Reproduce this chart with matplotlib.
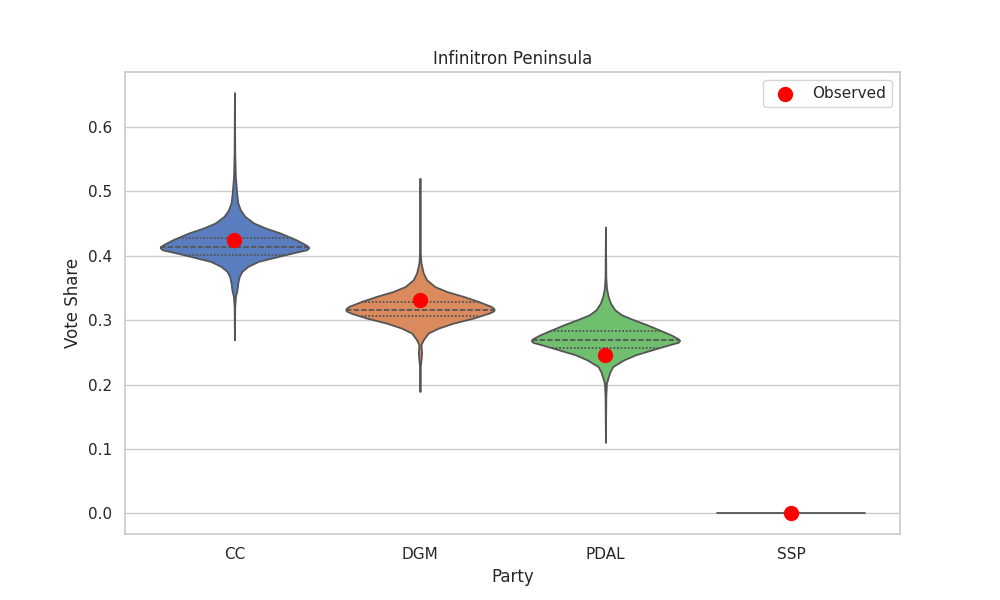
import matplotlib
matplotlib.use("Agg")
import matplotlib.pyplot as plt
import numpy as np
import seaborn as sns

sns.set_theme(style="whitegrid")

parties = ["CC", "DGM", "PDAL", "SSP"]
observed = [0.424, 0.331, 0.2457, 0.0]

# violin outlines: vote share, width relative to the widest point
cc_share = [0.653, 0.560, 0.523, 0.497, 0.482, 0.471, 0.461, 0.4506, 0.4428, 0.435, 0.4247, 0.4175, 0.414, 0.412,
            0.409, 0.4065, 0.3988, 0.391, 0.3832, 0.3755, 0.3677, 0.3574, 0.347, 0.3367, 0.3211, 0.2694]
cc_width = [0.0, 0.004, 0.012, 0.03, 0.045, 0.08, 0.14, 0.26, 0.42, 0.62, 0.83, 0.95, 0.995, 1.0,
            0.97, 0.87, 0.59, 0.32, 0.18, 0.10, 0.065, 0.045, 0.035, 0.014, 0.004, 0.0]
dgm_share = [0.520, 0.404, 0.3885, 0.373, 0.3626, 0.352, 0.3444, 0.3366, 0.3288, 0.3211, 0.318, 0.316, 0.314,
             0.3108, 0.3031, 0.2953, 0.2876, 0.2798, 0.2694, 0.2617, 0.2487, 0.2384, 0.228, 0.1891]
dgm_width = [0.0, 0.005, 0.014, 0.045, 0.09, 0.20, 0.36, 0.59, 0.79, 0.96, 0.995, 1.0, 0.99,
             0.93, 0.72, 0.45, 0.25, 0.11, 0.045, 0.014, 0.022, 0.014, 0.005, 0.0]
pdal_share = [0.4444, 0.3677, 0.3497, 0.3367, 0.3264, 0.316, 0.3082, 0.3005, 0.2927, 0.285, 0.2772, 0.271, 0.2684,
              0.2655, 0.2617, 0.2539, 0.2461, 0.2384, 0.228, 0.2202, 0.2124, 0.2021, 0.1814, 0.11]
pdal_width = [0.0, 0.005, 0.014, 0.036, 0.068, 0.126, 0.216, 0.38, 0.56, 0.72, 0.88, 0.98, 1.0,
              0.98, 0.86, 0.63, 0.405, 0.25, 0.10, 0.063, 0.04, 0.014, 0.005, 0.0]

shares = [cc_share, dgm_share, pdal_share]
widths = [cc_width, dgm_width, pdal_width]

medians = [0.413, 0.316, 0.2692]
lower_quartiles = [0.401, 0.3056, 0.257]
upper_quartiles = [0.428, 0.3288, 0.2835]

colors = ["#5a7dbf", "#db8a5e", "#70bf6f"]
edge = "#555555"
half_width = 0.4

fig, ax = plt.subplots(figsize=(10, 6))

for i in range(3):
    y = np.array(shares[i])
    w = np.array(widths[i]) * half_width
    ax.fill_betweenx(y, i - w, i + w, facecolor=colors[i], edgecolor=edge, linewidth=1.3, zorder=2)

    # inner quartile lines go across the violin at that height
    order = np.argsort(y)
    for val, ls in [(medians[i], (0, (3, 1.2))), (lower_quartiles[i], (0, (1, 1))), (upper_quartiles[i], (0, (1, 1)))]:
        hw = np.interp(val, y[order], w[order])
        ax.plot([i - hw, i + hw], [val, val], color=edge, linewidth=1.3, linestyle=ls, zorder=3)

# SSP is flat, no spread at all
ax.plot([3 - half_width, 3 + half_width], [0, 0], color=edge, linewidth=1.3, zorder=2)

ax.scatter(range(len(parties)), observed, color="red", s=100, zorder=5, label="Observed")

ax.set_xticks(range(len(parties)))
ax.set_xticklabels(parties)
ax.set_xlim(-0.59, 3.588)
ax.set_ylim(-0.032, 0.685)
ax.set_yticks([0.0, 0.1, 0.2, 0.3, 0.4, 0.5, 0.6])
ax.grid(False, axis="x")
ax.set_axisbelow(True)
ax.set_title("Infinitron Peninsula")
ax.set_xlabel("Party")
ax.set_ylabel("Vote Share")
ax.legend(loc="upper right")

plt.savefig("out.png", dpi=100)
